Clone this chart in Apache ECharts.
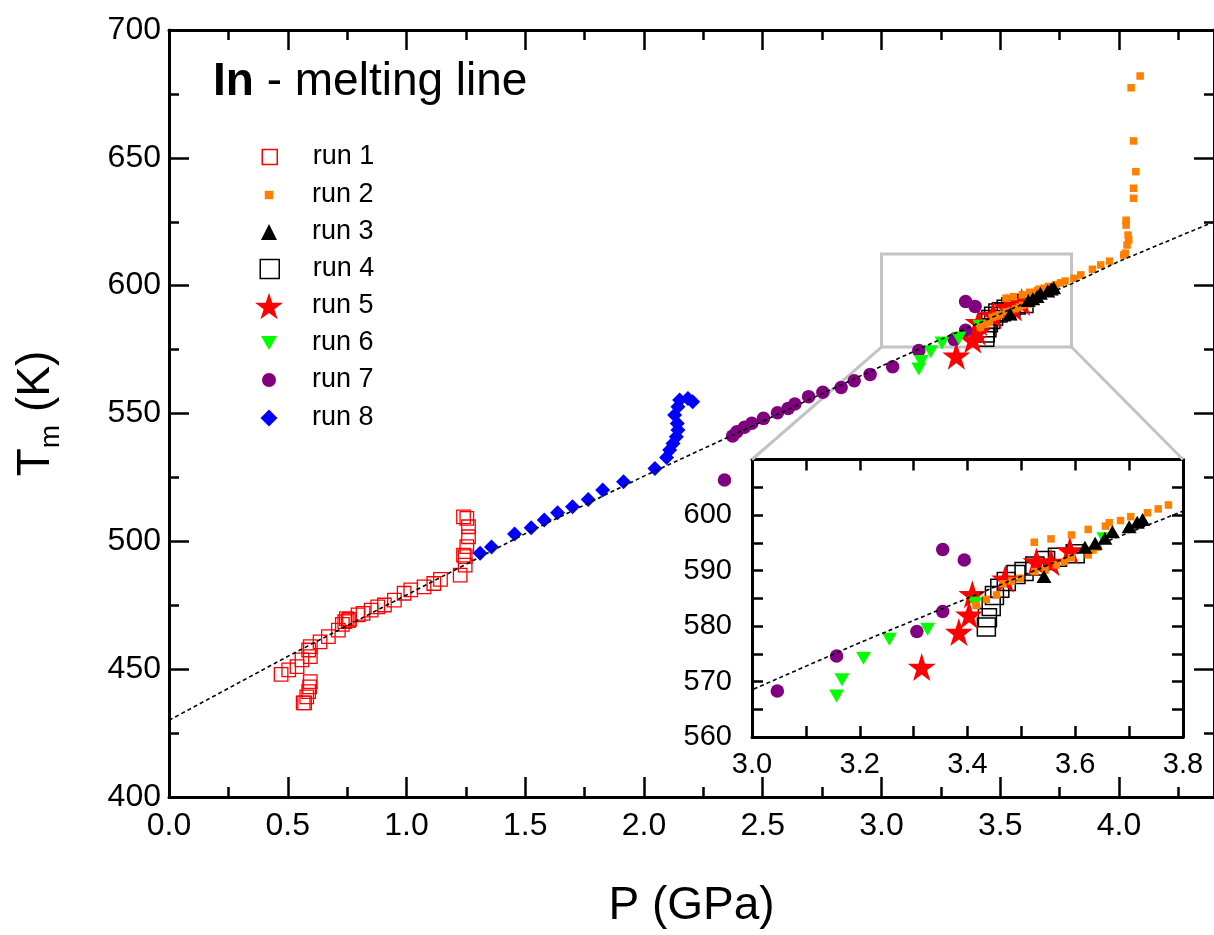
<!DOCTYPE html>
<html>
<head>
<meta charset="utf-8">
<title>In - melting line</title>
<script src="https://cdn.jsdelivr.net/npm/echarts@6/dist/echarts.min.js"></script>
<style>
  html, body { margin: 0; padding: 0; background: #fff; }
  #chart { width: 1214px; height: 935px; }
</style>
</head>
<body>
<div id="chart"></div>
<script>
// each point is [P (GPa), T (K)]
const run1 = [
  [0.472, 448.0], [0.504, 449.7], [0.539, 451.0], [0.56, 453.6], [0.595, 454.9],
  [0.588, 457.5], [0.595, 458.8], [0.636, 460.7], [0.671, 462.7], [0.713, 465.3],
  [0.73, 467.5], [0.74, 468.6], [0.747, 469.8], [0.755, 469.0], [0.76, 469.5],
  [0.796, 471.2], [0.817, 471.8], [0.851, 473.1], [0.879, 474.4], [0.907, 475.1],
  [0.949, 477.0], [0.99, 479.7], [1.018, 481.0], [1.074, 482.2], [1.115, 483.5],
  [1.143, 485.1], [1.226, 486.8], [1.247, 490.7], [1.24, 494.6], [1.247, 494.0],
  [1.254, 497.9], [1.261, 501.8], [1.261, 505.7], [1.254, 509.0], [1.24, 509.6],
  [0.565, 436.8], [0.571, 436.8], [0.58, 439.2], [0.588, 441.2], [0.592, 443.1],
  [0.595, 445.1]
];
const run2 = [
  [3.416, 583.7], [3.435, 584.8], [3.454, 585.6], [3.466, 587.6], [3.482, 588.1],
  [3.498, 588.6], [3.525, 589.8], [3.544, 590.1], [3.565, 591.0], [3.58, 591.6],
  [3.593, 592.3], [3.624, 592.8], [3.633, 593.7], [3.642, 594.2],
  [3.524, 595.1], [3.555, 595.7], [3.593, 596.4], [3.624, 597.4], [3.656, 598.0],
  [3.663, 598.6], [3.684, 599.0], [3.703, 599.7], [3.734, 600.4], [3.754, 601.1],
  [3.773, 601.8], [3.811, 602.9], [3.839, 604.2], [3.888, 606.4], [3.923, 608.1],
  [3.96, 609.6], [4.02, 612.0], [4.027, 612.7], [4.034, 615.9], [4.041, 617.9],
  [4.038, 619.8], [4.03, 623.7], [4.03, 625.6], [4.061, 634.2], [4.061, 638.1],
  [4.071, 644.6], [4.061, 656.6], [4.051, 677.4], [4.089, 682.0]
];
const run3 = [
  [3.542, 588.9], [3.618, 594.2], [3.637, 594.9], [3.655, 595.8], [3.669, 597.0],
  [3.7, 597.9], [3.715, 598.7], [3.725, 599.2]
];
const run4 = [
  [3.435, 579.8], [3.437, 581.5], [3.444, 583.5], [3.45, 585.5], [3.46, 586.8],
  [3.472, 588.0], [3.49, 589.3], [3.505, 589.8], [3.525, 590.8], [3.545, 591.8],
  [3.567, 592.4], [3.6, 593.0]
];
const run5 = [
  [3.315, 572.6], [3.384, 578.9], [3.403, 582.0], [3.409, 585.7], [3.47, 588.5],
  [3.528, 591.6], [3.555, 591.5], [3.59, 593.6]
];
const run6 = [
  [3.157, 567.4], [3.167, 570.3], [3.207, 574.2], [3.255, 577.6], [3.326, 579.4],
  [3.414, 584.1], [3.653, 595.7]
];
const run7 = [
  [2.339, 524.0], [2.373, 541.2], [2.391, 542.9], [2.423, 544.6], [2.454, 546.2],
  [2.503, 548.1], [2.562, 550.3], [2.607, 552.0], [2.635, 553.7], [2.693, 556.6],
  [2.753, 558.3], [2.83, 560.2], [2.885, 562.8], [2.952, 565.3], [3.047, 568.3],
  [3.157, 574.6], [3.306, 579.0], [3.354, 582.6], [3.354, 593.8], [3.394, 591.9]
];
const run8 = [
  [1.31, 495.3], [1.358, 497.8], [1.455, 502.9], [1.525, 505.3], [1.58, 508.3],
  [1.636, 511.2], [1.699, 513.5], [1.765, 516.4], [1.826, 520.1], [1.914, 523.3],
  [2.046, 528.5], [2.095, 532.8], [2.108, 535.7], [2.122, 538.3], [2.136, 540.9],
  [2.143, 543.5], [2.14, 546.1], [2.129, 549.4], [2.143, 552.6], [2.15, 555.3],
  [2.185, 555.9], [2.205, 554.6]
];
// dashed melting curve
const fitP = [0, 0.5, 1.0, 1.5, 2.0, 2.5, 3.0, 3.2, 3.4, 3.6, 3.8, 4.0, 4.4];
const fitT = [430, 455, 479, 503, 525.5, 547, 568.5, 577, 585, 593, 600.7, 609.5, 625];
// zoomed region marked in the main plot
const boxP = [3.0, 3.8];
const boxT = [576, 612.4];

const FONT = '"Liberation Sans", Arial, sans-serif';
const STAR = 'path://M0,-100L22.45,-30.9L95.1,-30.9L36.3,11.8L58.8,80.9L0,38.2L-58.8,80.9L-36.3,11.8L-95.1,-30.9L-22.45,-30.9Z';
const DOWN_TRI = 'path://M0,0L150,0L75,130Z';
const GRAY = '#c3c3c3';

const runs = {
  'run 1': { data: run1, symbol: 'rect', size: 13.5, leg: 15, style: { color: 'rgba(0,0,0,0)', borderColor: '#ff0000', borderWidth: 1.3 } },
  'run 2': { data: run2, symbol: 'rect', size: 7.5, leg: 8.5, style: { color: '#ff8000' } },
  'run 3': { data: run3, symbol: 'triangle', size: [15, 13], leg: 16, style: { color: '#000' } },
  'run 4': { data: run4, symbol: 'rect', size: 18, leg: 19, style: { color: 'rgba(0,0,0,0)', borderColor: '#000', borderWidth: 1.5 } },
  'run 5': { data: run5, symbol: STAR, size: 28, leg: 28, style: { color: '#ff0000' } },
  'run 6': { data: run6, symbol: DOWN_TRI, size: [15, 13], leg: 16, style: { color: '#00ff00' } },
  'run 7': { data: run7, symbol: 'circle', size: 13.5, leg: 14, style: { color: '#800080' } },
  'run 8': { data: run8, symbol: 'diamond', size: 15, leg: 17, style: { color: '#0000ff' } }
};
const legendOrder = ['run 1', 'run 2', 'run 3', 'run 4', 'run 5', 'run 6', 'run 7', 'run 8'];
const drawOrder = ['run 1', 'run 4', 'run 5', 'run 7', 'run 6', 'run 8', 'run 2', 'run 3'];

function axis(gridIndex, position, min, max, interval, tickLen, extra) {
  return Object.assign({
    type: 'value', gridIndex, position, min, max, interval,
    axisLine: { show: true, onZero: false, lineStyle: { color: '#000', width: 3 } },
    axisTick: { show: true, inside: true, length: tickLen, lineStyle: { color: '#000', width: 2.5 } },
    axisLabel: { show: false },
    splitLine: { show: false }
  }, extra || {});
}
const noLine = { axisLine: { show: false, onZero: false } };

const xAxes = [
  axis(0, 'bottom', 0, 4.4, 0.5, 20, {
    axisLabel: { show: true, fontSize: 32, fontFamily: FONT, color: '#000', margin: 13, showMaxLabel: false,
      formatter: v => v.toFixed(1) },
    name: 'P (GPa)', nameLocation: 'middle', nameGap: 86,
    nameTextStyle: { fontSize: 46, fontFamily: FONT, color: '#000' }
  }),
  axis(0, 'bottom', 0, 4.4, 0.25, 10, noLine),
  axis(0, 'top', 0, 4.4, 0.5, 20),
  axis(0, 'top', 0, 4.4, 0.25, 10, noLine),
  axis(1, 'bottom', 3.0, 3.8, 0.1, 11, {
    axisLabel: { show: true, fontSize: 29, fontFamily: FONT, color: '#000', margin: 13,
      formatter: v => (Math.round(v * 10) % 2 === 0 ? v.toFixed(1) : '') }
  }),
  axis(1, 'top', 3.0, 3.8, 0.1, 11)
];
const yAxes = [
  axis(0, 'left', 400, 700, 50, 20, {
    axisLabel: { show: true, fontSize: 32, fontFamily: FONT, color: '#000', margin: 8 },
    name: '{t|T}{m|m}{t| (K)}', nameLocation: 'middle', nameRotate: 90, nameGap: 104,
    nameTextStyle: {
      color: '#000',
      rich: {
        t: { fontSize: 46, fontFamily: FONT, color: '#000' },
        m: { fontSize: 28, fontFamily: FONT, color: '#000', padding: [30, 0, 0, 0] }
      }
    }
  }),
  axis(0, 'left', 400, 700, 25, 10, noLine),
  axis(0, 'right', 400, 700, 50, 20),
  axis(0, 'right', 400, 700, 25, 10, noLine),
  axis(1, 'left', 560, 610, 5, 11, {
    axisLabel: { show: true, fontSize: 29, fontFamily: FONT, color: '#000', margin: 20, showMaxLabel: false,
      formatter: v => (v % 10 === 0 ? String(v) : '') }
  }),
  axis(1, 'right', 560, 610, 5, 11)
];

const series = [];
[[0, 0], [4, 4]].forEach(([xi, yi]) => {
  drawOrder.forEach(name => {
    const r = runs[name];
    series.push({
      type: 'scatter', name, data: r.data, xAxisIndex: xi, yAxisIndex: yi,
      symbol: r.symbol, symbolSize: r.size,
      itemStyle: Object.assign({ opacity: 1 }, r.style),
      emphasis: { disabled: true }, silent: true, clip: true
    });
  });
  const fit = {
    type: 'line', name: 'fit', data: fitP.map((p, i) => [p, fitT[i]]),
    xAxisIndex: xi, yAxisIndex: yi, symbol: 'none', silent: true, clip: true, z: 3,
    lineStyle: { color: '#000', width: 1.6, type: [4, 3] }
  };
  if (xi === 0) {
    fit.markArea = {
      silent: true, label: { show: false },
      itemStyle: { color: 'rgba(0,0,0,0)', borderColor: GRAY, borderWidth: 3 },
      data: [[{ coord: [boxP[0], boxT[0]] }, { coord: [boxP[1], boxT[1]] }]]
    };
  }
  series.push(fit);
});

const rowY = [157, 195, 232, 269, 306, 343, 380, 418];
const legends = legendOrder.map((name, i) => {
  const r = runs[name];
  const s = r.leg;
  const lg = {
    data: [name], orient: 'vertical', left: 269 - s / 2, top: rowY[i] - 16, padding: 0,
    itemWidth: s, itemHeight: s, selectedMode: false,
    textStyle: { fontSize: 27, fontFamily: FONT, color: '#000', lineHeight: 32, padding: [0, 0, 0, 38 - s / 2] }
  };
  if (r.style.color === 'rgba(0,0,0,0)') {
    lg.itemStyle = { color: 'rgba(0,0,0,0)', borderColor: r.style.borderColor, borderWidth: 1.5 };
  }
  return lg;
});

const chart = echarts.init(document.getElementById('chart'), null, { renderer: 'canvas' });
chart.setOption({
  animation: false,
  backgroundColor: '#fff',
  textStyle: { fontFamily: FONT },
  title: {
    left: 213, top: 59, padding: 0,
    text: '{b|In}{r| - melting line}',
    textStyle: {
      fontWeight: 'normal',
      rich: {
        b: { fontSize: 46, fontWeight: 'bold', fontFamily: FONT, color: '#000', lineHeight: 46 },
        r: { fontSize: 46, fontWeight: 'normal', fontFamily: FONT, color: '#000', lineHeight: 46 }
      }
    }
  },
  legend: legends,
  grid: [
    { left: 169, top: 30, width: 1054, height: 767, containLabel: false },
    { left: 752, top: 459.5, width: 431, height: 277.5, show: true, backgroundColor: '#fff', borderWidth: 0, containLabel: false }
  ],
  xAxis: xAxes,
  yAxis: yAxes,
  series
});

// grey connectors from the marked box to the inset
const main = { xAxisIndex: 0, yAxisIndex: 0 };
const ins = { xAxisIndex: 4, yAxisIndex: 4 };
const bl = chart.convertToPixel(main, [boxP[0], boxT[0]]);
const br = chart.convertToPixel(main, [boxP[1], boxT[0]]);
const tl = chart.convertToPixel(ins, [3.0, 610]);
const tr = chart.convertToPixel(ins, [3.8, 610]);
chart.setOption({
  graphic: [
    { type: 'line', z: 1, silent: true, shape: { x1: bl[0], y1: bl[1], x2: tl[0], y2: tl[1] }, style: { stroke: GRAY, lineWidth: 3 } },
    { type: 'line', z: 1, silent: true, shape: { x1: br[0], y1: br[1], x2: tr[0], y2: tr[1] }, style: { stroke: GRAY, lineWidth: 3 } }
  ]
});
</script>
</body>
</html>
